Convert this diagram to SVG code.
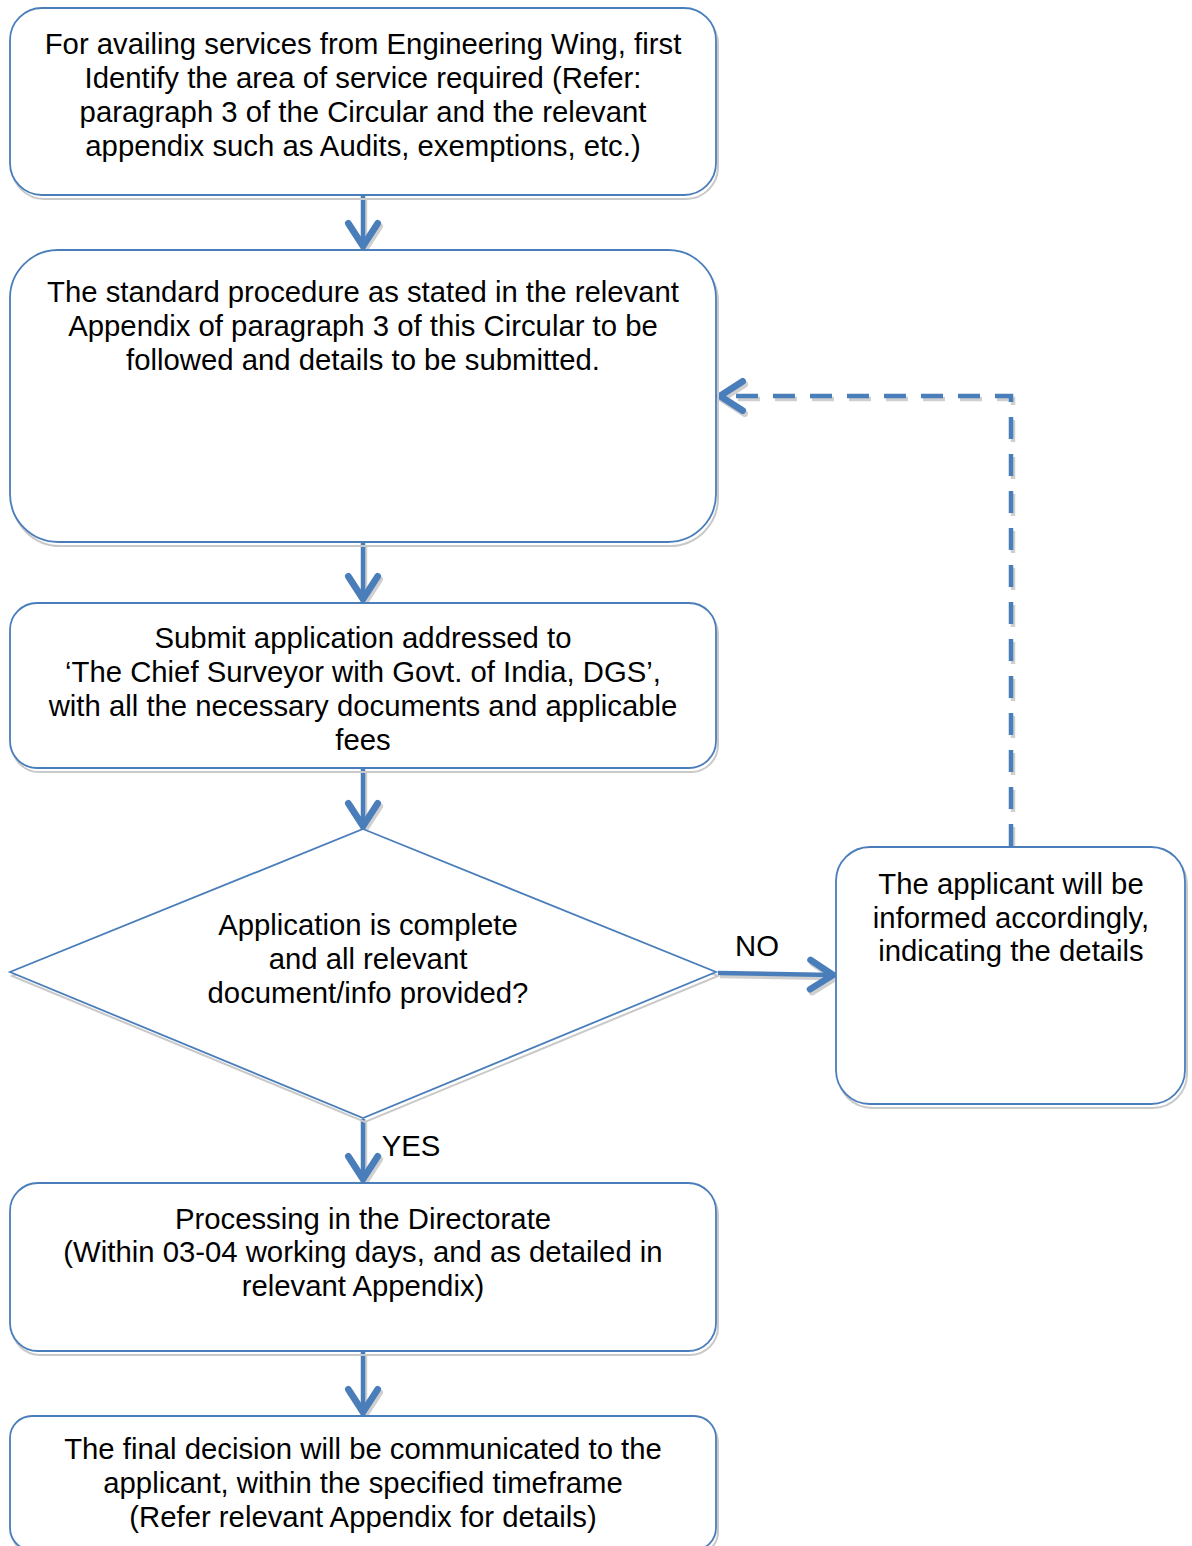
<svg xmlns="http://www.w3.org/2000/svg" width="1192" height="1546" viewBox="0 0 1192 1546">
<style>
.box{fill:#fff;stroke:#4a7ebb;stroke-width:1.8}
.sh{fill:none;stroke:#c9c9c9;stroke-width:2}
.t{font-family:"Liberation Sans",Arial,sans-serif;font-size:29.3px;fill:#000;text-anchor:middle}
.c{fill:none;stroke:#4a7ebb;stroke-width:4.5}
.cs{fill:none;stroke:#cfcfcf;stroke-width:4.5}
.d{stroke-dasharray:22 15}
</style>
<defs>
<marker id="ah" markerUnits="userSpaceOnUse" orient="auto" markerWidth="40" markerHeight="40" refX="0" refY="0" viewBox="-25 -15 30 30" overflow="visible">
<path d="M-17,-11 L0,0 L-17,11" fill="none" stroke="#4a7ebb" stroke-width="5" stroke-linecap="round" stroke-linejoin="miter"/>
</marker>
<marker id="ahs" markerUnits="userSpaceOnUse" orient="auto" markerWidth="40" markerHeight="40" refX="0" refY="0" viewBox="-25 -15 30 30" overflow="visible">
<path d="M-17,-11 L0,0 L-17,11" fill="none" stroke="#cfcfcf" stroke-width="5" stroke-linecap="round"/>
</marker>
</defs>

<g id="connectors">
<g transform="translate(2,3)">
<path class="cs" d="M363,196 V246" marker-end="url(#ahs)"/>
<path class="cs" d="M363,543 V599" marker-end="url(#ahs)"/>
<path class="cs" d="M363,769 V826" marker-end="url(#ahs)"/>
<path class="cs" d="M363,1119 V1179" marker-end="url(#ahs)"/>
<path class="cs" d="M363,1352 V1412" marker-end="url(#ahs)"/>
<path class="cs" d="M718,973 L833,975" marker-end="url(#ahs)"/>
<path class="cs d" d="M1011,846 V396 H720" marker-end="url(#ahs)"/>
</g>
<path class="c" d="M363,196 V246" marker-end="url(#ah)"/>
<path class="c" d="M363,543 V599" marker-end="url(#ah)"/>
<path class="c" d="M363,769 V826" marker-end="url(#ah)"/>
<path class="c" d="M363,1119 V1179" marker-end="url(#ah)"/>
<path class="c" d="M363,1352 V1412" marker-end="url(#ah)"/>
<path class="c" d="M718,973 L833,975" marker-end="url(#ah)"/>
<path class="c d" d="M1011,846 V396 H720" marker-end="url(#ah)"/>
<text class="t" x="757" y="956">NO</text>
<text class="t" x="411" y="1156">YES</text>
</g>

<g id="node1">
<rect class="sh" x="12" y="12" width="706" height="187" rx="32"/>
<rect class="box" x="10" y="8" width="706" height="187" rx="32"/>
<text class="t" x="363" y="53.5">For availing services from Engineering Wing, first</text>
<text class="t" x="363" y="87.5">Identify the area of service required (Refer:</text>
<text class="t" x="363" y="121.5">paragraph 3 of the Circular and the relevant</text>
<text class="t" x="363" y="155.5">appendix such as Audits, exemptions, etc.)</text>
</g>

<g id="node2">
<rect class="sh" x="12" y="254" width="706" height="292" rx="48"/>
<rect class="box" x="10" y="250" width="706" height="292" rx="48"/>
<text class="t" x="363" y="301.5">The standard procedure as stated in the relevant</text>
<text class="t" x="363" y="335.5">Appendix of paragraph 3 of this Circular to be</text>
<text class="t" x="363" y="369.5">followed and details to be submitted.</text>
</g>

<g id="node3">
<rect class="sh" x="12" y="607" width="706" height="165" rx="27"/>
<rect class="box" x="10" y="603" width="706" height="165" rx="27"/>
<text class="t" x="363" y="647.5">Submit application addressed to</text>
<text class="t" x="363" y="681.5">‘The Chief Surveyor with Govt. of India, DGS’,</text>
<text class="t" x="363" y="715.5">with all the necessary documents and applicable</text>
<text class="t" x="363" y="749.5">fees</text>
</g>

<g id="decision">
<polygon class="sh" points="365,833 718,976 365,1122 12,976"/>
<polygon class="box" points="363,829 716,972 363,1118 10,972"/>
<text class="t" x="368" y="934.5">Application is complete</text>
<text class="t" x="368" y="968.5">and all relevant</text>
<text class="t" x="368" y="1002.5">document/info provided?</text>
</g>

<g id="node4">
<rect class="sh" x="838" y="851" width="349" height="257" rx="34"/>
<rect class="box" x="836" y="847" width="349" height="257" rx="34"/>
<text class="t" x="1011" y="893.5">The applicant will be</text>
<text class="t" x="1011" y="927.5">informed accordingly,</text>
<text class="t" x="1011" y="960.5">indicating the details</text>
</g>

<g id="node5">
<rect class="sh" x="12" y="1187" width="706" height="168" rx="28"/>
<rect class="box" x="10" y="1183" width="706" height="168" rx="28"/>
<text class="t" x="363" y="1228.5">Processing in the Directorate</text>
<text class="t" x="363" y="1261.5">(Within 03-04 working days, and as detailed in</text>
<text class="t" x="363" y="1295.5">relevant Appendix)</text>
</g>

<g id="node6">
<rect class="sh" x="12" y="1420" width="706" height="134" rx="22"/>
<rect class="box" x="10" y="1416" width="706" height="134" rx="22"/>
<text class="t" x="363" y="1458.5">The final decision will be communicated to the</text>
<text class="t" x="363" y="1492.5">applicant, within the specified timeframe</text>
<text class="t" x="363" y="1526.5">(Refer relevant Appendix for details)</text>
</g>
</svg>
